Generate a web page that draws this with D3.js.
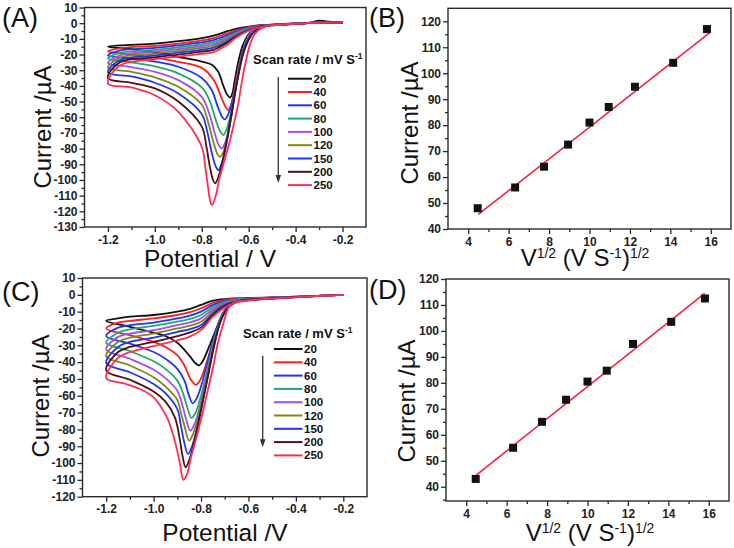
<!DOCTYPE html>
<html><head><meta charset="utf-8">
<script src="https://cdn.jsdelivr.net/npm/d3@7"></script>
<style>
html,body{margin:0;padding:0;background:#fff;}
svg{display:block;}
text{font-family:"Liberation Sans",Arial,sans-serif;}
</style></head><body>
<svg id="fig" width="734" height="548"></svg>
<script>
// ---------------- data ----------------
const scanRates = ["20","40","60","80","100","120","150","200","250"];
const curveColors = ["#111111","#ff1c1c","#1f35ff","#1eaa6b","#a64cf2","#7c8a12","#1f35ff","#4d1212","#ff2d55"];

const cvXTicks = [-1.2,-1.0,-0.8,-0.6,-0.4,-0.2];
const cvXMinor = [-1.1,-0.9,-0.7,-0.5,-0.3];
const aYTicks = [10,0,-10,-20,-30,-40,-50,-60,-70,-80,-90,-100,-110,-120,-130];
const aYMinor = [5,-5,-15,-25,-35,-45,-55,-65,-75,-85,-95,-105,-115,-125];
const cYTicks = [10,0,-10,-20,-30,-40,-50,-60,-70,-80,-90,-100,-110,-120];
const cYMinor = [5,-5,-15,-25,-35,-45,-55,-65,-75,-85,-95,-105,-115];
const linXTicks = [4,6,8,10,12,14,16];
const linXMinor = [5,7,9,11,13,15];
const linYTicks = [40,50,60,70,80,90,100,110,120];
const bYMinor = [45,55,65,75,85,95,105,115];
const dYMinor = [35,45,55,65,75,85,95,105,115];

// Panel A: forward (cathodic) branch and return branch, [potential V, current uA]
const A20_fwd = [[-1.2,-15],[-1.1,-16.5],[-1.0,-18.5],[-0.9,-21.5],[-0.8,-24.5],[-0.757,-26.5],[-0.73,-31],[-0.708,-40],[-0.69,-46],[-0.679,-47.4],[-0.67,-45],[-0.66,-37],[-0.645,-25],[-0.625,-14],[-0.6,-7],[-0.57,-3],[-0.52,-1.2],[-0.45,-0.5],[-0.35,0],[-0.2,0.3]];
const A40_fwd = [[-1.2,-18],[-1.1,-20],[-1.0,-22],[-0.9,-24.7],[-0.8,-28.5],[-0.75,-36],[-0.72,-46],[-0.70,-53],[-0.687,-55.5],[-0.675,-52],[-0.66,-42],[-0.645,-30],[-0.625,-18],[-0.6,-8],[-0.57,-3.2],[-0.52,-1.3],[-0.45,-0.6],[-0.35,0],[-0.2,0.3]];
const A60_fwd = [[-1.2,-20.5],[-1.1,-22.5],[-1.0,-24.5],[-0.9,-27.8],[-0.8,-35],[-0.76,-42],[-0.73,-54],[-0.712,-60],[-0.701,-61.4],[-0.69,-59],[-0.67,-50],[-0.65,-36],[-0.63,-21],[-0.605,-9.5],[-0.575,-3.5],[-0.52,-1.3],[-0.45,-0.6],[-0.35,0],[-0.2,0.3]];
const A80_fwd = [[-1.2,-22.5],[-1.1,-25],[-1.0,-27.5],[-0.9,-32],[-0.8,-41],[-0.765,-50],[-0.74,-62],[-0.72,-69.5],[-0.708,-71.4],[-0.695,-68],[-0.675,-57],[-0.655,-41],[-0.635,-25],[-0.61,-11],[-0.578,-4],[-0.52,-1.3],[-0.45,-0.6],[-0.35,0],[-0.2,0.3]];
const A100_fwd = [[-1.2,-25.5],[-1.1,-28],[-1.0,-31],[-0.9,-36.3],[-0.8,-47],[-0.77,-57],[-0.745,-70],[-0.727,-78],[-0.715,-79.9],[-0.7,-76],[-0.68,-64],[-0.66,-46],[-0.64,-28],[-0.612,-12],[-0.58,-4.5],[-0.52,-1.4],[-0.45,-0.6],[-0.35,0],[-0.2,0.3]];
const A120_fwd = [[-1.2,-28.5],[-1.1,-31],[-1.0,-34.5],[-0.9,-40.6],[-0.8,-52],[-0.775,-62],[-0.75,-76],[-0.733,-83.5],[-0.722,-85.2],[-0.705,-81],[-0.685,-68],[-0.665,-50],[-0.642,-30],[-0.614,-13],[-0.58,-5],[-0.52,-1.4],[-0.45,-0.6],[-0.35,0],[-0.2,0.3]];
const A150_fwd = [[-1.2,-31.5],[-1.1,-34],[-1.0,-38],[-0.9,-44.8],[-0.8,-58],[-0.78,-67],[-0.757,-83],[-0.74,-91.5],[-0.729,-93.7],[-0.712,-88],[-0.69,-73],[-0.668,-54],[-0.645,-33],[-0.615,-14],[-0.58,-5.5],[-0.52,-1.5],[-0.45,-0.6],[-0.35,0],[-0.2,0.3]];
const A200_fwd = [[-1.2,-35],[-1.1,-38],[-1.0,-41.6],[-0.9,-50],[-0.8,-66],[-0.78,-79],[-0.765,-92],[-0.752,-100],[-0.743,-102.2],[-0.725,-96],[-0.7,-80],[-0.675,-59],[-0.65,-38],[-0.618,-17],[-0.582,-6.5],[-0.52,-1.5],[-0.45,-0.6],[-0.35,0],[-0.2,0.3]];
const A250_fwd = [[-1.2,-38.5],[-1.1,-41],[-1.0,-46],[-0.9,-56.5],[-0.8,-79],[-0.785,-92],[-0.772,-106],[-0.764,-113.5],[-0.757,-116],[-0.742,-111],[-0.725,-99],[-0.7,-86],[-0.68,-75],[-0.66,-62],[-0.644,-51],[-0.63,-38],[-0.615,-26],[-0.595,-14],[-0.575,-7],[-0.55,-3.5],[-0.52,-1.6],[-0.45,-0.6],[-0.35,0],[-0.2,0.3]];

const A20_rev = [[-1.2,-15],[-1.15,-14.2],[-1.0,-13],[-0.9,-11.5],[-0.8,-9.5],[-0.75,-8],[-0.7,-5.6],[-0.65,-3.5],[-0.6,-2.2],[-0.55,-1.3],[-0.45,-0.6],[-0.35,0],[-0.3,1.6],[-0.27,1.2],[-0.2,0.6]];
const A40_rev = [[-1.2,-18],[-1.15,-16],[-1.0,-14.5],[-0.9,-13],[-0.8,-11],[-0.75,-9.5],[-0.7,-7],[-0.65,-4.5],[-0.6,-2.6],[-0.55,-1.5],[-0.45,-0.7],[-0.35,0],[-0.3,0.6],[-0.27,0.5],[-0.2,0.4]];
const A60_rev = [[-1.2,-20.5],[-1.15,-17.5],[-1.0,-15.8],[-0.9,-14.2],[-0.8,-12.3],[-0.75,-10.8],[-0.7,-8.2],[-0.65,-5.2],[-0.6,-3],[-0.55,-1.6],[-0.45,-0.7],[-0.35,0],[-0.3,0.8],[-0.27,0.6],[-0.2,0.4]];
const A80_rev = [[-1.2,-22.5],[-1.15,-19],[-1.0,-17],[-0.9,-15.4],[-0.8,-13.5],[-0.75,-12],[-0.7,-9.2],[-0.65,-5.8],[-0.6,-3.3],[-0.55,-1.7],[-0.45,-0.7],[-0.35,0],[-0.3,0.5],[-0.27,0.4],[-0.2,0.3]];
const A100_rev = [[-1.2,-25.5],[-1.15,-20.5],[-1.0,-18.2],[-0.9,-16.5],[-0.8,-14.7],[-0.75,-13.2],[-0.7,-10.3],[-0.65,-6.5],[-0.6,-3.6],[-0.55,-1.8],[-0.45,-0.8],[-0.35,0],[-0.3,0.5],[-0.27,0.4],[-0.2,0.3]];
const A120_rev = [[-1.2,-28.5],[-1.15,-22],[-1.0,-19.4],[-0.9,-17.6],[-0.8,-15.8],[-0.75,-14.4],[-0.7,-11.3],[-0.65,-7.1],[-0.6,-3.9],[-0.55,-1.9],[-0.45,-0.8],[-0.35,0],[-0.3,0.5],[-0.27,0.4],[-0.2,0.3]];
const A150_rev = [[-1.2,-31.5],[-1.15,-23.5],[-1.0,-20.6],[-0.9,-18.8],[-0.8,-17],[-0.75,-15.6],[-0.7,-12.3],[-0.65,-7.7],[-0.6,-4.2],[-0.55,-2],[-0.45,-0.9],[-0.35,0],[-0.3,0.6],[-0.27,0.5],[-0.2,0.3]];
const A200_rev = [[-1.2,-35],[-1.15,-25],[-1.0,-21.8],[-0.9,-20],[-0.8,-18.2],[-0.75,-17],[-0.7,-13.2],[-0.65,-8.2],[-0.6,-4.5],[-0.55,-2.1],[-0.45,-0.9],[-0.35,0],[-0.3,0.5],[-0.27,0.4],[-0.2,0.3]];
const A250_rev = [[-1.2,-38.5],[-1.15,-27],[-1.0,-23],[-0.9,-21.3],[-0.8,-19.5],[-0.75,-18.5],[-0.7,-14.5],[-0.65,-8.8],[-0.6,-4.8],[-0.55,-2.3],[-0.45,-1],[-0.35,0],[-0.3,0.5],[-0.27,0.4],[-0.2,0.3]];

// Panel C
const C20_fwd = [[-1.2,-15.5],[-1.1,-19],[-1.0,-22.5],[-0.95,-24.5],[-0.9,-28.5],[-0.85,-36],[-0.825,-40.5],[-0.808,-42],[-0.795,-40],[-0.778,-35],[-0.758,-28],[-0.738,-21],[-0.71,-11.5],[-0.68,-6],[-0.635,-3],[-0.55,-2.2],[-0.45,-1.5],[-0.35,-0.9],[-0.2,0]];
const C40_fwd = [[-1.2,-20],[-1.1,-24],[-1.0,-28],[-0.95,-31],[-0.9,-36],[-0.87,-42],[-0.845,-50],[-0.822,-53.5],[-0.805,-51],[-0.785,-44],[-0.765,-35],[-0.745,-26],[-0.725,-17.5],[-0.703,-10],[-0.675,-5.5],[-0.635,-3.1],[-0.55,-2.3],[-0.45,-1.5],[-0.35,-0.9],[-0.2,0]];
const C60_fwd = [[-1.2,-24.5],[-1.1,-29],[-1.0,-34],[-0.95,-38],[-0.9,-44],[-0.87,-51],[-0.853,-59],[-0.835,-64.5],[-0.818,-61.5],[-0.797,-53],[-0.776,-42],[-0.756,-31],[-0.735,-20.5],[-0.71,-11.5],[-0.68,-6],[-0.638,-3.2],[-0.55,-2.3],[-0.45,-1.6],[-0.35,-0.9],[-0.2,0]];
const C80_fwd = [[-1.2,-28.5],[-1.1,-33.5],[-1.0,-39.5],[-0.95,-44],[-0.9,-51],[-0.875,-59],[-0.858,-67],[-0.84,-73.2],[-0.823,-70],[-0.802,-61],[-0.78,-48.5],[-0.76,-36],[-0.738,-23.5],[-0.712,-12.5],[-0.681,-6.2],[-0.638,-3.3],[-0.55,-2.4],[-0.45,-1.6],[-0.35,-0.9],[-0.2,0]];
const C100_fwd = [[-1.2,-32.5],[-1.1,-38],[-1.0,-44.5],[-0.95,-49.5],[-0.9,-57],[-0.88,-65],[-0.863,-74],[-0.845,-80.8],[-0.828,-77],[-0.806,-67],[-0.784,-53.5],[-0.763,-40],[-0.741,-26],[-0.714,-13.5],[-0.682,-6.5],[-0.639,-3.4],[-0.55,-2.4],[-0.45,-1.6],[-0.35,-0.9],[-0.2,0]];
const C120_fwd = [[-1.2,-36.5],[-1.1,-42],[-1.0,-49],[-0.95,-54.5],[-0.9,-62.5],[-0.885,-70],[-0.868,-79],[-0.85,-86.7],[-0.833,-82.5],[-0.81,-71.5],[-0.787,-57],[-0.765,-42.5],[-0.743,-28],[-0.715,-14.5],[-0.683,-6.8],[-0.64,-3.5],[-0.55,-2.5],[-0.45,-1.7],[-0.35,-0.9],[-0.2,0]];
const C150_fwd = [[-1.2,-40.5],[-1.1,-46],[-1.0,-53],[-0.95,-58.5],[-0.9,-68],[-0.886,-77],[-0.872,-87],[-0.855,-94.6],[-0.838,-90],[-0.815,-78],[-0.791,-62],[-0.768,-46],[-0.745,-30.5],[-0.717,-15.5],[-0.684,-7.2],[-0.64,-3.6],[-0.55,-2.5],[-0.45,-1.7],[-0.35,-0.9],[-0.2,0]];
const C200_fwd = [[-1.2,-45],[-1.1,-50.5],[-1.0,-57.5],[-0.95,-63.5],[-0.91,-73],[-0.892,-84],[-0.879,-95],[-0.865,-102.5],[-0.848,-97.5],[-0.824,-84.5],[-0.798,-67],[-0.773,-50],[-0.749,-33],[-0.72,-16.5],[-0.686,-7.6],[-0.64,-3.7],[-0.55,-2.6],[-0.45,-1.7],[-0.35,-0.9],[-0.2,0]];
const C250_fwd = [[-1.2,-49.5],[-1.13,-52.5],[-1.057,-56],[-1.0,-61],[-0.972,-66],[-0.94,-74],[-0.916,-84],[-0.9,-93],[-0.888,-101],[-0.875,-110],[-0.86,-107],[-0.843,-97],[-0.82,-85],[-0.8,-74],[-0.78,-62],[-0.762,-51],[-0.745,-40],[-0.728,-28],[-0.706,-17],[-0.685,-8],[-0.665,-5],[-0.64,-3.8],[-0.55,-2.7],[-0.45,-1.8],[-0.35,-1],[-0.2,0]];

const C20_rev = [[-1.2,-15.5],[-1.15,-14],[-1.1,-13],[-1.0,-12],[-0.9,-10],[-0.85,-8.5],[-0.8,-6],[-0.75,-3.5],[-0.7,-2.5],[-0.65,-2.1],[-0.6,-1.9],[-0.5,-1.5],[-0.4,-1.1],[-0.3,-0.6],[-0.2,0]];
const C40_rev = [[-1.2,-20],[-1.15,-16.5],[-1.1,-15.5],[-1.0,-14],[-0.9,-12],[-0.85,-10.5],[-0.8,-8],[-0.75,-4.8],[-0.7,-3],[-0.65,-2.3],[-0.6,-2.1],[-0.5,-1.6],[-0.4,-1.1],[-0.3,-0.6],[-0.2,0]];
const C60_rev = [[-1.2,-24.5],[-1.15,-19.5],[-1.1,-18],[-1.0,-16.5],[-0.9,-14],[-0.85,-12.5],[-0.8,-10],[-0.75,-6],[-0.7,-3.6],[-0.65,-2.6],[-0.6,-2.3],[-0.5,-1.7],[-0.4,-1.2],[-0.3,-0.6],[-0.2,0]];
const C80_rev = [[-1.2,-28.5],[-1.15,-22.5],[-1.1,-20.5],[-1.0,-18.5],[-0.9,-16],[-0.85,-14.5],[-0.8,-12],[-0.75,-7.2],[-0.7,-4.2],[-0.65,-2.9],[-0.6,-2.4],[-0.5,-1.8],[-0.4,-1.2],[-0.3,-0.6],[-0.2,0]];
const C100_rev = [[-1.2,-32.5],[-1.15,-25],[-1.1,-23],[-1.0,-21],[-0.9,-18],[-0.85,-16.5],[-0.8,-14],[-0.75,-8.5],[-0.7,-4.8],[-0.65,-3.2],[-0.6,-2.6],[-0.5,-1.9],[-0.4,-1.3],[-0.3,-0.6],[-0.2,0]];
const C120_rev = [[-1.2,-36.5],[-1.15,-28],[-1.1,-25.5],[-1.0,-23],[-0.9,-20],[-0.85,-18.5],[-0.8,-16],[-0.75,-9.8],[-0.7,-5.4],[-0.65,-3.5],[-0.6,-2.8],[-0.5,-2],[-0.4,-1.3],[-0.3,-0.6],[-0.2,0]];
const C150_rev = [[-1.2,-40.5],[-1.15,-31],[-1.1,-28],[-1.0,-25.5],[-0.9,-22],[-0.85,-20.5],[-0.8,-18],[-0.75,-11],[-0.7,-6],[-0.65,-3.8],[-0.6,-3],[-0.5,-2.1],[-0.4,-1.4],[-0.3,-0.6],[-0.2,0]];
const C200_rev = [[-1.2,-45],[-1.15,-34],[-1.1,-31],[-1.0,-28],[-0.9,-24.5],[-0.85,-22.5],[-0.8,-19.5],[-0.75,-12],[-0.7,-6.8],[-0.65,-4.1],[-0.6,-3.2],[-0.5,-2.2],[-0.4,-1.4],[-0.3,-0.6],[-0.2,0]];
const C250_rev = [[-1.2,-49.5],[-1.15,-37.5],[-1.1,-34],[-1.0,-30.5],[-0.9,-27],[-0.85,-25],[-0.8,-21],[-0.75,-13],[-0.7,-7.5],[-0.65,-4.5],[-0.6,-3.4],[-0.5,-2.3],[-0.4,-1.5],[-0.3,-0.6],[-0.2,0]];

// Panels B and D: peak current vs square root of scan rate
const sqrtScan = [4.47,6.32,7.75,8.94,10.0,10.95,12.25,14.14,15.81];
const peakB = [48,56,64,72.5,81,87,94.8,104,117];
const fitBx = [4.5,16.0];
const fitBy = [45.6,115.9];
const peakD = [43,55,65,73.5,80.5,84.7,95,103.5,112.5];
const fitDx = [4.5,15.8];
const fitDy = [44.5,114.5];

const cvA = [[A20_fwd,A20_rev],[A40_fwd,A40_rev],[A60_fwd,A60_rev],[A80_fwd,A80_rev],[A100_fwd,A100_rev],[A120_fwd,A120_rev],[A150_fwd,A150_rev],[A200_fwd,A200_rev],[A250_fwd,A250_rev]];
const cvC = [[C20_fwd,C20_rev],[C40_fwd,C40_rev],[C60_fwd,C60_rev],[C80_fwd,C80_rev],[C100_fwd,C100_rev],[C120_fwd,C120_rev],[C150_fwd,C150_rev],[C200_fwd,C200_rev],[C250_fwd,C250_rev]];

// ---------------- drawing ----------------
const svg = d3.select("#fig");
const AX = "#2a2a2a";
const FONT = '"Liberation Sans",Arial,sans-serif';

function axes(x, y, xMaj, xMin, yMaj, yMin, xFmt, yFmt) {
  const g = svg.append("g");
  const yb = y.range()[0], yt = y.range()[1];
  const xl = x.range()[0], xr = x.range()[1];
  const style = sel => {
    sel.selectAll("path.domain").remove();
    sel.selectAll("line").attr("stroke", AX).attr("stroke-width", 1.3);
    sel.selectAll("text").attr("fill", "#222").attr("font-weight", "bold")
      .attr("font-size", 12).attr("font-family", FONT);
  };
  g.append("g").attr("transform", `translate(0,${yb})`)
    .call(d3.axisBottom(x).tickValues(xMin).tickSize(3).tickFormat("")).call(style);
  g.append("g").attr("transform", `translate(0,${yb})`)
    .call(d3.axisBottom(x).tickValues(xMaj).tickSize(5).tickPadding(3).tickFormat(xFmt)).call(style);
  g.append("g").attr("transform", `translate(${xl},0)`)
    .call(d3.axisLeft(y).tickValues(yMin).tickSize(3).tickFormat("")).call(style);
  g.append("g").attr("transform", `translate(${xl},0)`)
    .call(d3.axisLeft(y).tickValues(yMaj).tickSize(5).tickPadding(2).tickFormat(yFmt)).call(style);
  g.append("rect").attr("x", xl).attr("y", yt).attr("width", xr - xl).attr("height", yb - yt)
    .attr("fill", "none").attr("stroke", AX).attr("stroke-width", 1.4);
}

function yTitle(xBase, yc) {
  svg.append("text").attr("transform", `translate(${xBase},${yc}) rotate(-90)`)
    .attr("text-anchor", "middle").attr("font-size", 24).attr("fill", "#111")
    .text("Current /\u00b5A");
}
function panelLabel(txt, x, y) {
  svg.append("text").attr("x", x).attr("y", y).attr("font-size", 27).attr("fill", "#111").text(txt);
}

function cvPanel(cfg) {
  const x = d3.scaleLinear([-1.3, -0.1], cfg.xr);
  const y = d3.scaleLinear([cfg.ymin, 10], cfg.yr);
  axes(x, y, cvXTicks, cvXMinor, cfg.yTicks, cfg.yMinor, v => v.toFixed(1), v => String(v));
  const line = d3.line().x(d => x(d[0])).y(d => y(d[1])).curve(d3.curveCatmullRom.alpha(0.5));
  cfg.data.forEach((pair, i) => {
    const pts = pair[0].slice().reverse().concat(pair[1].slice(1));
    svg.append("path").attr("d", line(pts)).attr("fill", "none")
      .attr("stroke", curveColors[i]).attr("stroke-width", 1.8).attr("stroke-linejoin", "round");
  });
  // legend
  const lg = cfg.legend;
  const t = svg.append("text").attr("x", lg.tx).attr("y", lg.ty).attr("font-size", 13)
    .attr("font-weight", "bold").attr("fill", "#111");
  t.append("tspan").text("Scan rate / mV S");
  t.append("tspan").attr("dy", -5).attr("font-size", 8.5).text("-1");
  scanRates.forEach((s, i) => {
    const yy = lg.y0 + i * lg.step;
    svg.append("line").attr("x1", lg.x1).attr("x2", lg.x2).attr("y1", yy).attr("y2", yy)
      .attr("stroke", curveColors[i]).attr("stroke-width", 2);
    svg.append("text").attr("x", lg.x2 + 1.5).attr("y", yy + 4).attr("font-size", 11.5)
      .attr("font-weight", "bold").attr("fill", "#111").text(s);
  });
  svg.append("line").attr("x1", lg.ax).attr("x2", lg.ax).attr("y1", lg.ay0).attr("y2", lg.ay1 - 6)
    .attr("stroke", "#333").attr("stroke-width", 1.3);
  svg.append("path").attr("d", `M${lg.ax - 2.8},${lg.ay1 - 8}L${lg.ax + 2.8},${lg.ay1 - 8}L${lg.ax},${lg.ay1}Z`)
    .attr("fill", "#333");
  // titles
  svg.append("text").attr("x", cfg.xtx).attr("y", cfg.xty).attr("text-anchor", "middle")
    .attr("font-size", 24.5).attr("fill", "#111").text(cfg.xTitle);
  yTitle(cfg.ytx, cfg.yty);
}

function linPanel(cfg) {
  const x = d3.scaleLinear([3, 17], cfg.xr);
  const y = d3.scaleLinear(cfg.yd, cfg.yr);
  axes(x, y, linXTicks, linXMinor, linYTicks, cfg.yMinor, v => String(v), v => String(v));
  svg.append("line").attr("x1", x(cfg.fx[0])).attr("y1", y(cfg.fy[0]))
    .attr("x2", x(cfg.fx[1])).attr("y2", y(cfg.fy[1]))
    .attr("stroke", "#f5213f").attr("stroke-width", 1.6);
  svg.append("g").selectAll("rect").data(cfg.vals).join("rect")
    .attr("x", (d, i) => x(sqrtScan[i]) - 4).attr("y", d => y(d) - 4)
    .attr("width", 8).attr("height", 8).attr("fill", "#111");
  const t = svg.append("text").attr("x", cfg.xtx).attr("y", cfg.xty).attr("text-anchor", "middle")
    .attr("font-size", 24).attr("fill", "#111");
  t.append("tspan").text("V");
  t.append("tspan").attr("dy", -8).attr("font-size", 14).text("1/2");
  t.append("tspan").attr("dy", 8).text(" (V S");
  t.append("tspan").attr("dy", -8).attr("font-size", 14).text("-1");
  t.append("tspan").attr("dy", 8).text(")");
  t.append("tspan").attr("dy", -8).attr("font-size", 14).text("1/2");
  yTitle(cfg.ytx, cfg.yty);
}

cvPanel({
  xr: [84.5, 366], ymin: -130, yr: [227, 7.5], yTicks: aYTicks, yMinor: aYMinor, data: cvA,
  legend: {tx: 253, ty: 64, x1: 288, x2: 312, y0: 78.7, step: 13.3, ax: 278.3, ay0: 77, ay1: 183},
  xTitle: "Potential / V", xtx: 210, xty: 267, ytx: 51, yty: 127
});
cvPanel({
  xr: [82.5, 367], ymin: -120, yr: [496.7, 278], yTicks: cYTicks, yMinor: cYMinor, data: cvC,
  legend: {tx: 243, ty: 338, x1: 274, x2: 302.5, y0: 349, step: 13.3, ax: 262.7, ay0: 355.7, ay1: 447.3},
  xTitle: "Potential /V", xtx: 225, xty: 541, ytx: 49, yty: 396
});
linPanel({
  xr: [448, 731], yd: [40, 125], yr: [229, 8.3], yMinor: bYMinor, vals: peakB, fx: fitBx, fy: fitBy,
  xtx: 585, xty: 266, ytx: 418, yty: 123
});
linPanel({
  xr: [446, 729], yd: [34.5, 120], yr: [501, 279], yMinor: dYMinor, vals: peakD, fx: fitDx, fy: fitDy,
  xtx: 590, xty: 541, ytx: 415, yty: 401
});

panelLabel("(A)", 2, 27);
panelLabel("(B)", 369, 27);
panelLabel("(C)", 2, 301);
panelLabel("(D)", 369, 299);
</script></body></html>
